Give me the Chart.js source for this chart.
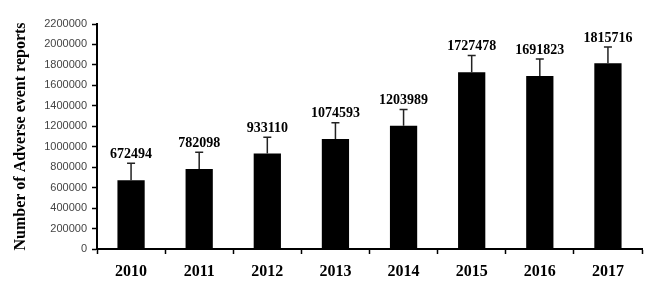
<!DOCTYPE html>
<html>
<head>
<meta charset="utf-8">
<script src="https://cdn.jsdelivr.net/npm/chart.js@4.4.0/dist/chart.umd.min.js"></script>
<style>
  html, body { margin: 0; padding: 0; background: #fff; }
  #wrap { width: 672px; height: 296px; position: relative; }
</style>
</head>
<body>
<div id="wrap"><canvas id="reports-chart"></canvas></div>
<script>
// Datos

let years = ["2010", "2011", "2012", "2013", "2014", "2015", "2016", "2017"];
let reports = [672494, 782098, 933110, 1074593, 1203989, 1727478, 1691823, 1815716];
let errors = [165000, 165000, 160000, 160000, 160000, 165000, 165000, 160000];
let yTicks = [0, 200000, 400000, 600000, 800000, 1000000, 1200000, 1400000,
  1600000, 1800000, 2000000, 2200000];

let serif = "'Liberation Serif', 'Times New Roman', serif";

// Barras de error y etiquetas

let errorBars = {
  id: "errorBars",
  afterDatasetsDraw(chart) {
    let ctx = chart.ctx;
    let meta = chart.getDatasetMeta(0);
    let y = chart.scales.y;
    ctx.save();
    meta.data.forEach((bar, i) => {
      let top = y.getPixelForValue(reports[i] + errors[i]);
      ctx.strokeStyle = "#222";
      ctx.lineWidth = 1.5;
      ctx.beginPath();
      ctx.moveTo(bar.x, bar.y);
      ctx.lineTo(bar.x, top);
      ctx.moveTo(bar.x - 4, top);
      ctx.lineTo(bar.x + 4, top);
      ctx.stroke();

      ctx.fillStyle = "#000";
      ctx.font = "bold 14px " + serif;
      ctx.textAlign = "center";
      ctx.textBaseline = "bottom";
      ctx.fillText(String(reports[i]), bar.x, top - 2);
    });
    ctx.restore();
  },
};

let ctx = document.getElementById("reports-chart").getContext("2d");

new Chart(ctx, {
  type: "bar",
  data: {
    labels: years,
    datasets: [
      {
        label: "Number of Adverse event reports",
        data: reports,
        backgroundColor: "#000",
        borderWidth: 0,
        categoryPercentage: 1,
        barPercentage: 0.4,
      },
    ],
  },
  options: {
    responsive: true,
    maintainAspectRatio: false,
    animation: false,
    layout: {
      padding: { top: 24, right: 30, bottom: 0, left: 0 },
    },
    plugins: {
      legend: { display: false },
      tooltip: { enabled: false },
    },
    scales: {
      x: {
        grid: {
          display: true,
          drawOnChartArea: false,
          offset: true,
          tickLength: 5,
          tickColor: "#000",
          tickWidth: 1.5,
        },
        border: { color: "#000", width: 2 },
        ticks: {
          color: "#000",
          padding: 8,
          font: { family: serif, size: 16, weight: "bold" },
        },
        afterFit: (scale) => {
          scale.height = 47;
        },
      },
      y: {
        min: 0,
        max: 2200000,
        afterBuildTicks: (scale) => {
          scale.ticks = yTicks.map((v) => ({ value: v }));
        },
        grid: {
          display: true,
          drawOnChartArea: false,
          tickLength: 5,
          tickColor: "#000",
          tickWidth: 1.5,
        },
        border: { color: "#000", width: 2 },
        ticks: {
          color: "#444",
          padding: 5,
          font: { family: "'Liberation Sans', Arial, sans-serif", size: 11 },
          callback: (v) => String(v),
        },
        title: {
          display: true,
          text: "Number of Adverse event reports",
          color: "#000",
          padding: { top: 11, bottom: 0 },
          font: { family: serif, size: 16, weight: "bold" },
        },
        afterFit: (scale) => {
          scale.width = 97;
        },
      },
    },
  },
  plugins: [errorBars],
});
</script>
</body>
</html>
